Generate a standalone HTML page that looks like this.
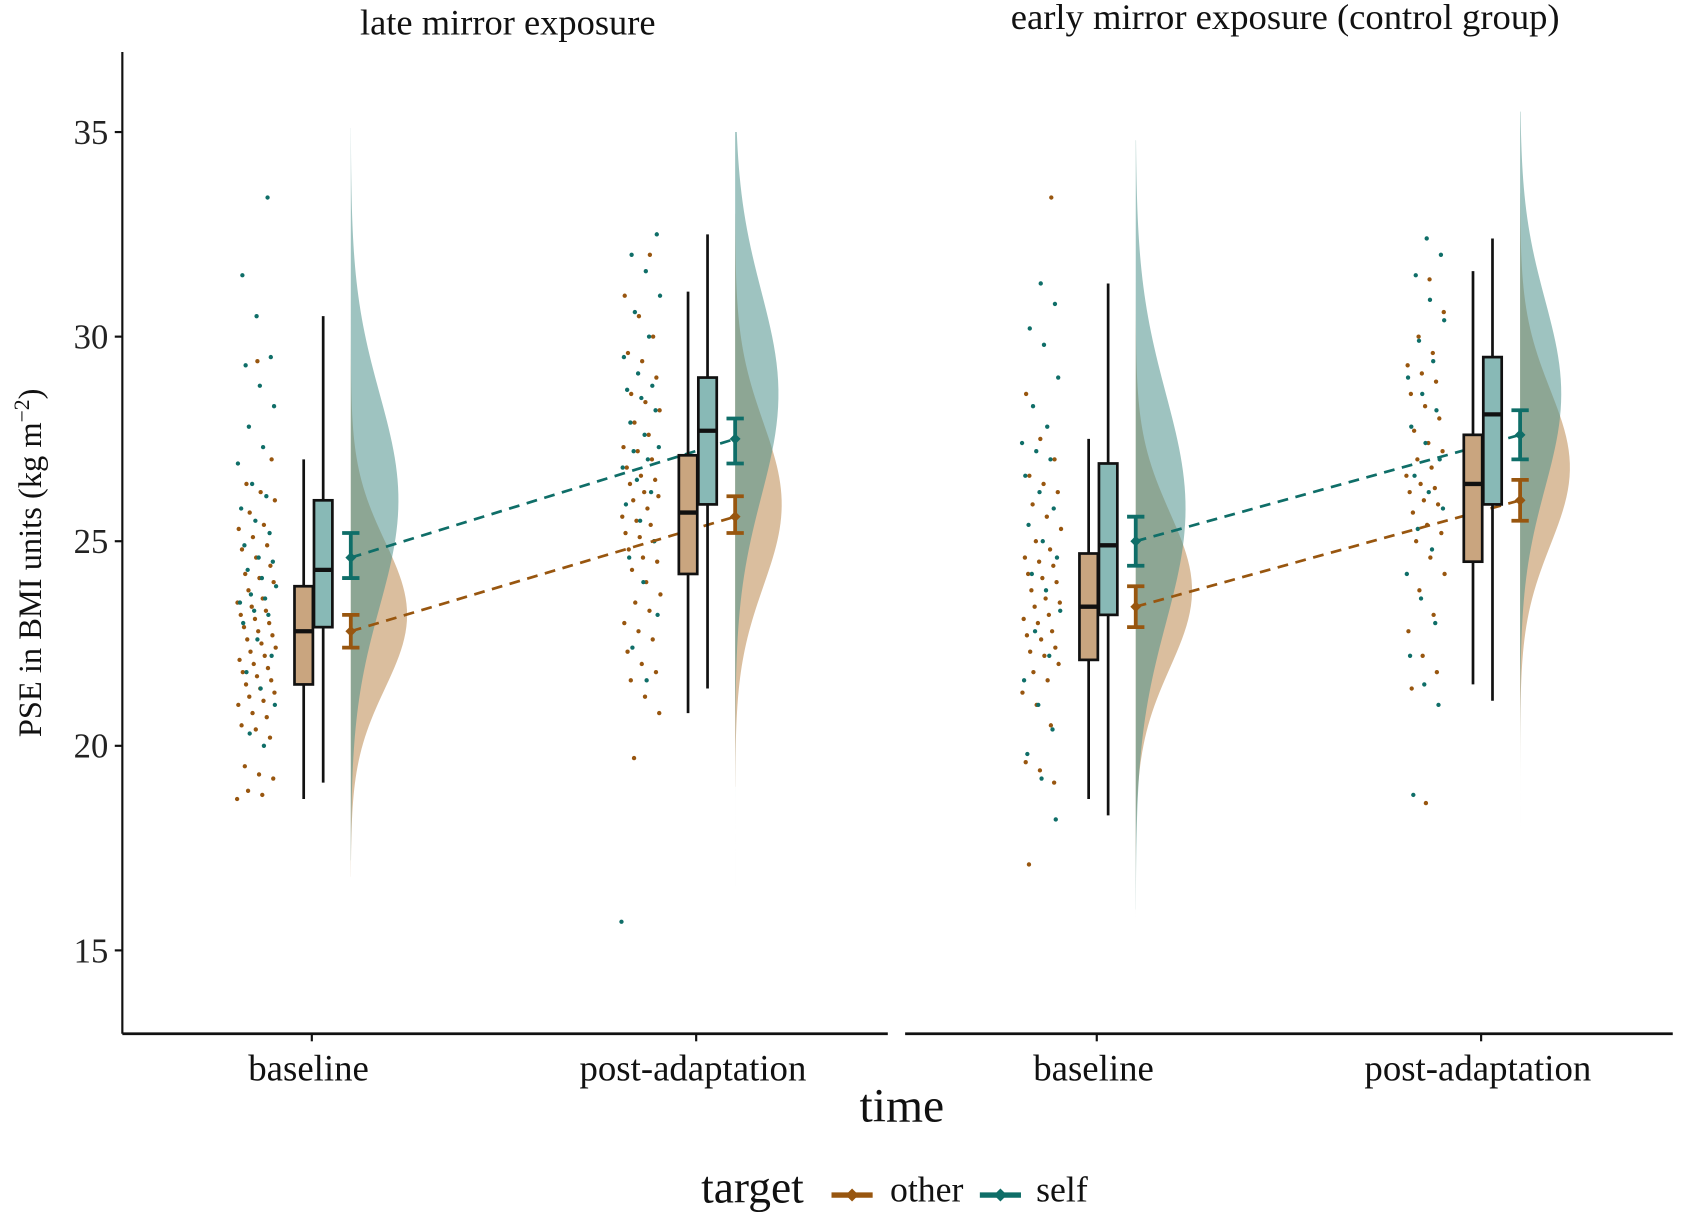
<!DOCTYPE html>
<html><head><meta charset="utf-8"><style>
html,body{margin:0;padding:0;background:#fff;}
svg{display:block;font-family:"Liberation Serif",serif;}
</style></head><body>
<svg id="chart" width="1689" height="1221" viewBox="0 0 1560 1128" preserveAspectRatio="none" xmlns="http://www.w3.org/2000/svg">
<g id="root"></g>
</svg>
<script>
// ---- data ----
const panels = ["late mirror exposure", "early mirror exposure (control group)"];
const times = ["baseline", "post-adaptation"];
const targets = ["other", "self"];
const yTicks = [15, 20, 25, 30, 35];
// order: [panel][time][target]
const boxQ1 = [[[21.5,22.9],[24.2,25.9]],[[22.1,23.2],[24.5,25.9]]];
const boxMed = [[[22.8,24.3],[25.7,27.7]],[[23.4,24.9],[26.4,28.1]]];
const boxQ3 = [[[23.9,26.0],[27.1,29.0]],[[24.7,26.9],[27.6,29.5]]];
const whiskLo = [[[18.7,19.1],[20.8,21.4]],[[18.7,18.3],[21.5,21.1]]];
const whiskHi = [[[27.0,30.5],[31.1,32.5]],[[27.5,31.3],[31.6,32.4]]];
const meanVal = [[[22.8,24.6],[25.6,27.5]],[[23.4,25.0],[26.0,27.6]]];
const ciLo = [[[22.4,24.1],[25.2,26.9]],[[22.9,24.4],[25.5,27.0]]];
const ciHi = [[[23.2,25.2],[26.1,28.0]],[[23.9,25.6],[26.5,28.2]]];
const vMin = [[[16.8,17.2],[19.0,13.3]],[[15.8,16.0],[17.0,16.8]]];
const vMax = [[[31.0,35.1],[33.0,35.0]],[[32.0,34.8],[33.5,35.5]]];
const vMode = [[[23.2,26.0],[25.9,28.6]],[[23.8,25.8],[26.8,28.6]]];
const vPeak = [[[52,44],[43,40]],[[52,46],[46,38]]];
const vSpread = [[[1.8,2.6],[2.0,2.5]],[[1.9,2.8],[1.9,2.3]]];
const dotsOther = [
 [[18.7,18.8,18.9,19.2,19.3,19.5,20.2,20.4,20.5,20.7,20.8,21.0,21.1,21.2,21.3,21.4,21.5,21.6,21.7,21.8,21.9,22.0,22.1,22.2,22.3,22.4,22.5,22.6,22.7,22.8,22.9,23.0,23.1,23.2,23.3,23.4,23.5,23.6,23.8,24.0,24.1,24.2,24.4,24.6,24.8,24.9,25.1,25.3,25.4,25.7,26.0,26.2,26.4,27.0,29.4],
  [19.7,20.8,21.2,21.6,21.8,22.0,22.3,22.6,22.8,23.0,23.3,23.5,23.7,24.0,24.3,24.5,24.6,24.8,25.0,25.1,25.2,25.4,25.5,25.6,25.8,26.0,26.1,26.2,26.4,26.5,26.6,26.8,27.0,27.2,27.3,27.6,27.9,28.2,28.4,28.6,29.0,29.4,29.6,30.0,30.5,31.0,32.0]],
 [[17.1,19.1,19.4,19.6,20.5,21.0,21.3,21.6,21.8,22.0,22.2,22.3,22.4,22.6,22.7,22.8,23.0,23.1,23.2,23.4,23.5,23.6,23.8,24.0,24.1,24.2,24.4,24.5,24.6,24.8,25.0,25.3,25.6,25.9,26.2,26.4,26.6,27.0,27.5,28.6,33.4],
  [18.6,21.4,21.8,22.2,22.8,23.2,23.8,24.2,24.6,25.0,25.2,25.4,25.7,25.9,26.0,26.2,26.3,26.4,26.6,26.8,27.0,27.2,27.4,27.7,28.0,28.3,28.6,28.9,29.1,29.3,29.6,30.0,30.6,31.4]]];
const dotsSelf = [
 [[20.0,20.3,21.0,21.4,21.8,22.2,22.6,23.0,23.2,23.3,23.5,23.6,23.7,23.9,24.1,24.3,24.5,24.6,24.9,25.2,25.5,25.8,26.1,26.4,26.9,27.3,27.8,28.3,28.8,29.3,29.5,30.5,31.5,33.4],
  [15.7,21.6,22.4,23.2,24.0,24.6,25.0,25.5,25.9,26.2,26.5,26.8,27.0,27.2,27.3,27.6,27.9,28.2,28.5,28.7,28.8,29.1,29.5,30.0,30.6,31.0,31.6,32.0,32.5]],
 [[18.2,19.2,19.8,20.4,21.0,21.6,22.2,22.8,23.3,23.8,24.2,24.6,25.0,25.4,25.8,26.2,26.6,27.0,27.2,27.4,27.8,28.3,29.0,29.8,30.2,30.8,31.3],
  [18.8,21.0,21.5,22.2,23.0,23.6,24.2,24.8,25.3,25.8,26.2,26.6,27.0,27.4,27.8,28.2,28.6,29.0,29.4,29.9,30.4,30.9,31.5,32.0,32.4]]];

// ---- scales / style ----
const NS = "http://www.w3.org/2000/svg";
const root = document.getElementById('root');
const yS = v => 500 - (v - 25) * 37.8;
const catX = (p, t) => [[288, 643], [1013, 1368]][p][t];
const colLine = ["#98560f", "#0f6e68"];
const colBox = ["#c9a57f", "#88b9b6"];
const colViol = ["rgba(196,150,98,0.62)", "rgba(78,145,140,0.55)"];
function el(tag, attrs, parent) {
  const e = document.createElementNS(NS, tag);
  for (const k in attrs) e.setAttribute(k, attrs[k]);
  (parent || root).appendChild(e);
  return e;
}
function txt(s, attrs) { const e = el('text', attrs); e.textContent = s; return e; }

// axes
const yAxis = el('line', {x1:113, y1:48, x2:113, y2:955, stroke:'#111', 'stroke-width':2});


yTicks.forEach(v => {
  const t = el('line', {x1:106, x2:113, y1:yS(v), y2:yS(v), stroke:'#111', 'stroke-width':2});
  
  
  const l = txt(String(v), {x:100, y:yS(v)+11, 'text-anchor':'end', 'font-size':32, fill:'#222'});
  
  
});
const yt = txt("PSE in BMI units (kg m", {transform:'translate(38,520) rotate(-90)', 'text-anchor':'middle', 'font-size':30, fill:'#111'});
const sup = document.createElementNS(NS,'tspan'); sup.setAttribute('dy',-11); sup.setAttribute('font-size',20); sup.textContent='−2'; yt.appendChild(sup);
const cl = document.createElementNS(NS,'tspan'); cl.setAttribute('dy',11); cl.textContent=')'; yt.appendChild(cl);



const panelRange = [[113, 820], [836, 1545]];
const titleX = [469, 1187], titleY = [32, 27];
panels.forEach((pn, p) => {
  const ax = el('line', {x1:panelRange[p][0], x2:panelRange[p][1], y1:955, y2:955, stroke:'#111', 'stroke-width':2.5});
  
  
  const ti = txt(pn, {x:titleX[p], y:titleY[p], 'text-anchor':'middle', 'font-size':33, fill:'#111', textLength: p===0?273:507, lengthAdjust:'spacingAndGlyphs'});
  
  
  times.forEach((tm, t) => {
    const cx = catX(p, t);
    const tk = el('line', {x1:cx, x2:cx, y1:955, y2:962, stroke:'#111', 'stroke-width':2});
    
    
    const lb = txt(tm, {x:cx - 3, y:998, 'text-anchor':'middle', 'font-size':34, fill:'#111'});
    
    
  });
  // violins
  times.forEach((tm, t) => {
    const x0 = catX(p, t) + 36;
    [0, 1].forEach(g => {
      let d = `M${x0},${yS(vMax[p][t][g])}`;
      const n = 100;
      for (let i = 0; i <= n; i++) {
        const v = vMax[p][t][g] - (vMax[p][t][g] - vMin[p][t][g]) * i / n;
        const z = (v - vMode[p][t][g]) / vSpread[p][t][g];
        const w = vPeak[p][t][g] * Math.exp(-0.5 * z * z);
        d += ` L${x0 + w},${yS(v)}`;
      }
      d += ` L${x0},${yS(vMin[p][t][g])} Z`;
      const vp = el('path', {d, fill:colViol[g], stroke:'none'});
      
      
    });
  });
  // jitter dots
  times.forEach((tm, t) => {
    const cx = catX(p, t) - 51;
    [dotsOther, dotsSelf].forEach((arr, g) => {
      arr[p][t].forEach((v, i) => {
        const off = (((i * 7919 + g * 104729 + t * 31 + p * 17) % 97) / 96) * 36 - 18;
        const c = el('circle', {cx:cx + off, cy:yS(v), r:2, fill:colLine[g]});
        
        
      });
    });
  });
  // dashed mean lines
  [0, 1].forEach(g => {
    const ln = el('line', {x1:catX(p,0)+36, y1:yS(meanVal[p][0][g]), x2:catX(p,1)+36, y2:yS(meanVal[p][1][g]), stroke:colLine[g], 'stroke-width':2.5, 'stroke-dasharray':'10 7'});
    
    
  });
  // boxes + error bars
  times.forEach((tm, t) => {
    [0, 1].forEach(g => {
      const bx = catX(p, t) + (g === 0 ? -16 : 2), bw = 17, mx = bx + bw / 2;
      const w = el('line', {x1:mx, x2:mx, y1:yS(whiskHi[p][t][g]), y2:yS(whiskLo[p][t][g]), stroke:'#111', 'stroke-width':2.5});
      
      
      const r = el('rect', {x:bx, y:yS(boxQ3[p][t][g]), width:bw, height:yS(boxQ1[p][t][g]) - yS(boxQ3[p][t][g]), fill:colBox[g], stroke:'#111', 'stroke-width':2.5});
      
      
      const m = el('line', {x1:bx, x2:bx+bw, y1:yS(boxMed[p][t][g]), y2:yS(boxMed[p][t][g]), stroke:'#111', 'stroke-width':4});
      
      
      const ex = catX(p, t) + 36;
      const eg = el('g', {stroke:colLine[g], 'stroke-width':3.5, fill:colLine[g]});
      
      
      el('line', {x1:ex, x2:ex, y1:yS(ciHi[p][t][g]), y2:yS(ciLo[p][t][g])}, eg);
      el('line', {x1:ex-8, x2:ex+8, y1:yS(ciHi[p][t][g]), y2:yS(ciHi[p][t][g])}, eg);
      el('line', {x1:ex-8, x2:ex+8, y1:yS(ciLo[p][t][g]), y2:yS(ciLo[p][t][g])}, eg);
      const my = yS(meanVal[p][t][g]);
      el('path', {d:`M${ex-5},${my} L${ex},${my-5} L${ex+5},${my} L${ex},${my+5} Z`, stroke:'none'}, eg);
    });
  });
});
const xt = txt("time", {x:833, y:1036, 'text-anchor':'middle', 'font-size':44, fill:'#111'});


// legend
const lt = txt("target", {x:695, y:1111, 'text-anchor':'middle', 'font-size':42, fill:'#111'});


const keyX = [768, 905], labX = [822, 957];
targets.forEach((tg, g) => {
  const lg = el('g', {});
  
  
  el('line', {x1:keyX[g], x2:keyX[g]+38, y1:1104, y2:1104, stroke:colLine[g], 'stroke-width':5}, lg);
  el('path', {d:`M${keyX[g]+13},1104 L${keyX[g]+19},1098 L${keyX[g]+25},1104 L${keyX[g]+19},1110 Z`, fill:colLine[g]}, lg);
  const tt = document.createElementNS(NS,'text');
  tt.setAttribute('x', labX[g]); tt.setAttribute('y', 1110); tt.setAttribute('font-size', 33); tt.setAttribute('fill','#111');
  tt.textContent = tg; lg.appendChild(tt);
});
</script>
</body></html>
